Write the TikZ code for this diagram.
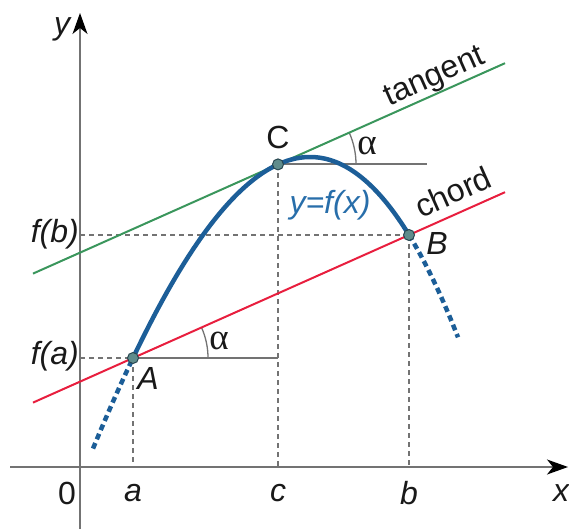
\documentclass[tikz,border=0pt]{standalone}
\usepackage{fontspec}
\setmainfont{Liberation Sans}
\newfontfamily\grk{Liberation Serif}
\usetikzlibrary{arrows.meta}
\definecolor{cblue}{RGB}{28,94,152}
\definecolor{lblue}{RGB}{40,110,170}
\definecolor{cred}{RGB}{232,30,62}
\definecolor{cgreen}{RGB}{58,150,92}
\definecolor{cgray}{RGB}{115,115,115}
\definecolor{cpt}{RGB}{95,140,140}
\definecolor{cptd}{RGB}{40,70,80}
\definecolor{ctext}{RGB}{25,25,25}
\tikzset{
  axis/.style={cgray,line width=1.4pt,-{Stealth[length=21pt,width=15pt,inset=6pt,black]}},
  guide/.style={cgray,line width=1.3pt,dash pattern=on 5pt off 4pt},
  hline/.style={cgray,line width=2pt},
  curvesolid/.style={cblue,line width=4.5pt,line cap=round},
  curvedash/.style={cblue,line width=4.5pt,dash pattern=on 6pt off 4pt},
  chordline/.style={cred,line width=2pt},
  tanline/.style={cgreen,line width=2pt},
  pt/.style={circle,fill=cpt,draw=cptd,line width=1pt,inner sep=0pt,minimum size=11pt},
  lab/.style={font=\fontsize{32}{36}\selectfont,inner sep=0pt,text=ctext},
  ilab/.style={font=\fontsize{32}{36}\selectfont\itshape,inner sep=0pt,text=ctext},
  alab/.style={font=\fontsize{37}{40}\selectfont\grk,inner sep=0pt,text=ctext},
}
\begin{document}
\begin{tikzpicture}[x=1pt,y=1pt]
\useasboundingbox (0,0) rectangle (569,-529);
% key coordinates
\coordinate (O) at (80,-467);
\coordinate (A) at (133,-358);
\coordinate (B) at (409,-235);
\coordinate (C) at (278,-164.4);
\coordinate (xa) at (133,-467);
\coordinate (xb) at (409,-467);
\coordinate (xc) at (278,-467);
\coordinate (ya) at (80,-358);
\coordinate (yb) at (80,-235);
\coordinate (Ah) at (278,-358);
\coordinate (Ch) at (427,-164.4);
\coordinate (xs) at (10,-467);
\coordinate (xe) at (568,-467);
\coordinate (ys) at (80,-529);
\coordinate (ye) at (80,-13);
\coordinate (ch1) at (33,-402.6);
\coordinate (ch2) at (505,-192.2);
\coordinate (tg1) at (33,-273.6);
\coordinate (tg2) at (505,-63.2);
% guides
\draw[guide] (ya) -- (A);
\draw[guide] (yb) -- (B);
\draw[guide] (A) -- (xa);
\draw[guide] (C) -- (xc);
\draw[guide] (B) -- (xb);
% axes
\draw[axis] (xs) -- (xe);
\draw[axis] (ys) -- (ye);
% horizontal reference lines
\draw[hline] (A) -- (Ah);
\draw[hline] (C) -- (Ch);
% angle arcs
\draw[cgray,line width=1.3pt] ([shift={(0:75)}]A) arc[start angle=0,end angle=24,radius=75];
\draw[cgray,line width=1.3pt] ([shift={(0:78)}]C) arc[start angle=0,end angle=24,radius=78];
% chord and tangent
\draw[chordline] (ch1) -- (ch2);
\draw[tanline] (tg1) -- (tg2);
% curve
\draw[curvedash] plot[domain=93:133,samples=20] (\x,{-(157+74.05*((\x-310)/100)^2+5.59*((\x-310)/100)^3)});
\draw[curvedash] plot[domain=409:458,samples=20] (\x,{-(157+74.05*((\x-310)/100)^2+5.59*((\x-310)/100)^3)});
\draw[curvesolid] plot[domain=133:409,samples=100] (\x,{-(157+74.05*((\x-310)/100)^2+5.59*((\x-310)/100)^3)});
% points
\node[pt] (pA) at (A) {};
\node[pt] (pB) at (B) {};
\node[pt] (pC) at (C) {};
% labels
\node[ilab] (ly) at (62,-29) {y};
\node[ilab] (lx) at (561,-493) {x};
\node[lab] (l0) at (67,-493) {0};
\node[ilab] (la) at (133,-493) {a};
\node[ilab] (lc) at (278,-493) {c};
\node[ilab] (lb) at (409,-493) {b};
\node[ilab,anchor=east] (lfa) at (79,-356) {f(a)};
\node[ilab,anchor=east] (lfb) at (79,-234) {f(b)};
\node[ilab] (lA) at (148,-378) {A};
\node[ilab] (lB) at (437,-243) {B};
\node[lab] (lC) at (278,-137) {C};
\node[alab] (al1) at (219,-341) {α};
\node[alab] (al2) at (367,-146) {α};
\node[ilab,text=lblue] (lf) at (330,-205) {y=f(x)};
\node[lab,rotate=24] (lt) at (435,-78) {tangent};
\node[lab,rotate=24] (lch) at (453,-192) {chord};
\end{tikzpicture}
\end{document}
